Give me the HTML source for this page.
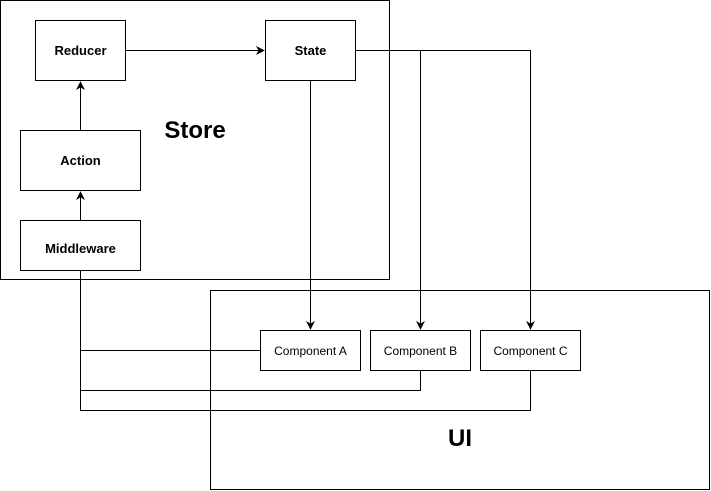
<!DOCTYPE html>
<html><head><meta charset="utf-8"><style>
html,body{margin:0;padding:0;background:#fff;}
svg{display:block;}
text{font-family:"Liberation Sans",Arial,sans-serif;fill:#000;}
</style></head><body>
<svg width="711" height="491" viewBox="0 0 711 491" xmlns="http://www.w3.org/2000/svg">
<defs>
<marker id="a" viewBox="0 0 10 10" refX="9" refY="5" markerWidth="9" markerHeight="9" orient="auto" markerUnits="userSpaceOnUse">
<path d="M0,0 L10,5 L0,10 L3,5 z" fill="#000"/>
</marker>
</defs>
<g fill="none" stroke="#000" stroke-width="1">
<rect x="0.5" y="0.5" width="389" height="279" fill="#fff"/>
<rect x="210.5" y="290.5" width="499" height="199" fill="#fff"/>
<rect x="35.5" y="20.5" width="90" height="60"/>
<rect x="265.5" y="20.5" width="90" height="60"/>
<rect x="20.5" y="130.5" width="120" height="60"/>
<rect x="20.5" y="220.5" width="120" height="50"/>
<rect x="260.5" y="330.5" width="100" height="40"/>
<rect x="370.5" y="330.5" width="100" height="40"/>
<rect x="480.5" y="330.5" width="100" height="40"/>
<line x1="125.5" y1="50.5" x2="264" y2="50.5" marker-end="url(#a)"/>
<line x1="80.5" y1="130.5" x2="80.5" y2="82" marker-end="url(#a)"/>
<line x1="80.5" y1="220.5" x2="80.5" y2="192" marker-end="url(#a)"/>
<line x1="310.5" y1="80.5" x2="310.5" y2="329" marker-end="url(#a)"/>
<polyline points="355.5,50.5 530.5,50.5 530.5,329" marker-end="url(#a)"/>
<line x1="420.5" y1="50.5" x2="420.5" y2="329" marker-end="url(#a)"/>
<polyline points="80.5,270.5 80.5,410.5 530.5,410.5 530.5,370.5"/>
<line x1="80.5" y1="350.5" x2="260.5" y2="350.5"/>
<polyline points="80.5,390.5 420.5,390.5 420.5,370.5"/>
</g>
<g font-size="13" font-weight="bold" text-anchor="middle">
<text x="80.5" y="55">Reducer</text>
<text x="310.5" y="55">State</text>
<text x="80.5" y="165">Action</text>
<text x="80.5" y="253">Middleware</text>
</g>
<g font-size="12" text-anchor="middle">
<text x="310.5" y="355">Component A</text>
<text x="420.5" y="355">Component B</text>
<text x="530.5" y="355">Component C</text>
</g>
<text x="195" y="138" font-size="24" font-weight="bold" text-anchor="middle">Store</text>
<text x="460" y="446" font-size="24" font-weight="bold" text-anchor="middle">UI</text>
</svg>
</body></html>
